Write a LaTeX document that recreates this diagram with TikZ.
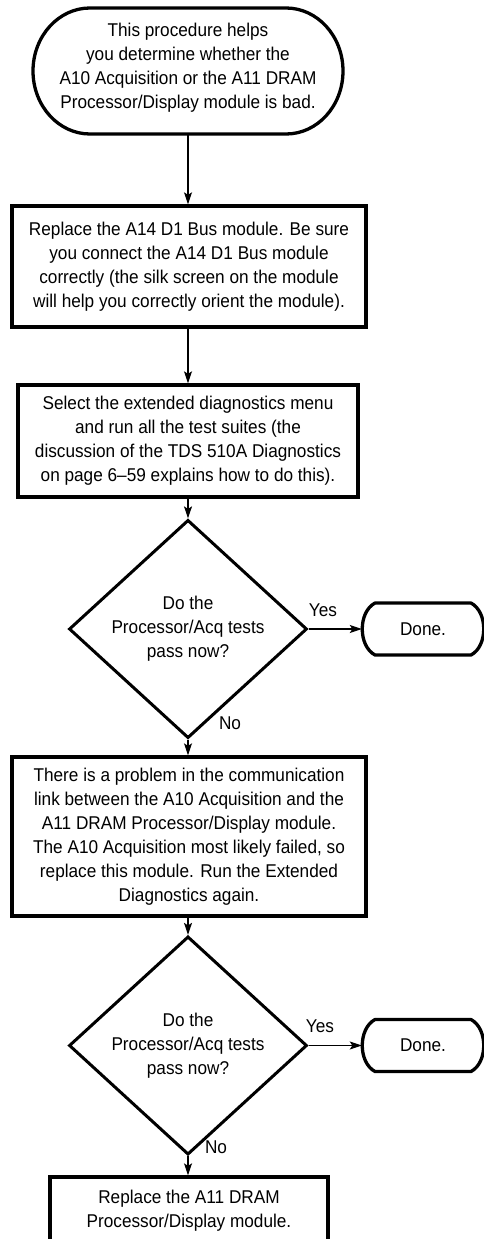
\documentclass[tikz,border=0pt]{standalone}
\usepackage{fontspec}
\setmainfont{Liberation Sans}[FakeStretch=0.93]
\usetikzlibrary{shapes.geometric,arrows.meta}
\tikzset{
  txt/.style={font=\fontsize{18.5}{24}\selectfont, align=center, inner sep=0pt},
  boxnode/.style={txt, draw, line width=3.3pt, rectangle},
  decision/.style={txt, draw, line width=3pt, diamond, minimum width=238pt, minimum height=172pt},
  outline/.style={line width=3.3pt, line join=round},
  conn/.style={line width=1.3pt, -{Stealth[length=12pt,width=8pt,inset=2.5pt]}},
  lbl/.style={font=\fontsize{18.5}{24}\selectfont, inner sep=0pt}
}
\begin{document}
\begin{tikzpicture}[x=1pt,y=-1pt]
\clip (0,0) rectangle (484,1239);
% start terminal
\node[txt, minimum width=310pt, minimum height=126pt] (start) at (188,68)
  {This procedure helps\\you determine whether the\\A10 Acquisition or the A11 DRAM\\Processor/Display module is bad.};
\draw[outline] (90,8) -- (286,8) .. controls (317.5,8) and (343,36.2) .. (343,71)
  .. controls (343,105.8) and (317.5,134) .. (286,134) -- (90,134)
  .. controls (58.5,134) and (33,105.8) .. (33,71)
  .. controls (33,36.2) and (58.5,8) .. (90,8) -- cycle;
\coordinate (startbot) at (188,134);
% boxes
\node[boxnode, minimum width=354pt, minimum height=121pt] (box1) at (189,266.5)
  {Replace the A14 D1 Bus module. Be sure\\you connect the A14 D1 Bus module\\correctly (the silk screen on the module\\will help you correctly orient the module).};
\node[boxnode, minimum width=340pt, minimum height=112pt] (box2) at (188,441)
  {Select the extended diagnostics menu\\and run all the test suites (the\\discussion of the TDS 510A Diagnostics\\on page 6–59 explains how to do this).};
\node[decision] (dia1) at (188,629) {Do the\\Processor/Acq tests\\pass now?};
\node[txt, minimum width=122pt, minimum height=52pt] (done1) at (423,629) {Done.};
\draw[outline] (375,603) -- (471,603) .. controls (488,612) and (488,646) .. (471,655)
  -- (375,655) .. controls (358,646) and (358,612) .. (375,603) -- cycle;
\node[boxnode, minimum width=354pt, minimum height=159pt] (box3) at (189,836.5)
  {There is a problem in the communication\\link between the A10 Acquisition and the\\A11 DRAM Processor/Display module.\\The A10 Acquisition most likely failed, so\\replace this module. Run the Extended\\Diagnostics again.};
\node[decision] (dia2) at (188,1045.5) {Do the\\Processor/Acq tests\\pass now?};
\node[txt, minimum width=122pt, minimum height=52pt] (done2) at (423,1045.5) {Done.};
\begin{scope}[shift={(0,416.5)}]
\draw[outline] (375,603) -- (471,603) .. controls (488,612) and (488,646) .. (471,655)
  -- (375,655) .. controls (358,646) and (358,612) .. (375,603) -- cycle;
\end{scope}
\node[boxnode, minimum width=278pt, minimum height=68pt] (box4) at (189,1211)
  {Replace the A11 DRAM\\Processor/Display module.};
% connectors
\draw[conn] (startbot) -- (startbot |- box1.north);
\draw[conn] (box1.south -| box2.north) -- (box2.north);
\draw[conn] (box2.south) -- (dia1.north);
\draw[conn] (dia1.east) -- (done1.west);
\draw[conn] (dia1.south) -- (dia1.south |- box3.north);
\draw[conn] (box3.south -| dia2.north) -- (dia2.north);
\draw[conn] (dia2.east) -- (done2.west);
\draw[conn] (dia2.south) -- (dia2.south |- box4.north);
% labels
\node[lbl] (yes1) at (323,610) {Yes};
\node[lbl] (no1) at (230,723) {No};
\node[lbl] (yes2) at (320,1026) {Yes};
\node[lbl] (no2) at (216,1147) {No};
\end{tikzpicture}
\end{document}
